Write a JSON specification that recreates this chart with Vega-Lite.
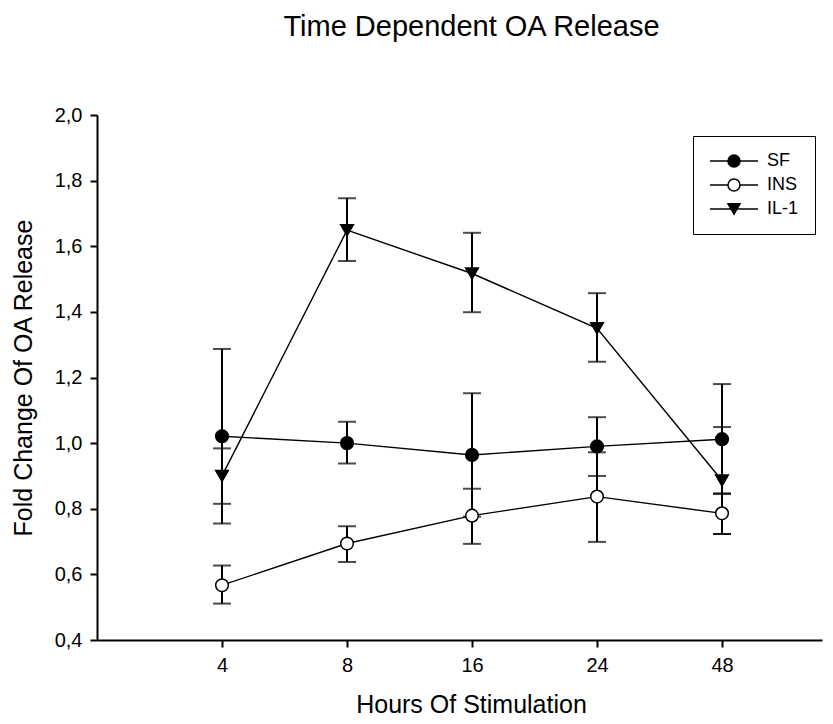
{
  "$schema": "https://vega.github.io/schema/vega-lite/v6.json",
  "width": 725,
  "height": 525,
  "autosize": {"type": "none"},
  "padding": {"left": 97, "top": 115, "right": 11, "bottom": 84},
  "background": "white",
  "config": {
    "view": {"stroke": null},
    "font": "Liberation Sans",
    "axis": {
      "grid": false,
      "domainColor": "black",
      "domainWidth": 2,
      "tickColor": "black",
      "tickWidth": 2,
      "tickSize": 7,
      "labelColor": "black",
      "labelFont": "Liberation Sans",
      "labelFontSize": 20,
      "titleColor": "black",
      "titleFont": "Liberation Sans",
      "titleFontSize": 25,
      "titleFontWeight": "normal"
    }
  },
  "title": {
    "text": "Time Dependent OA Release",
    "font": "Liberation Sans",
    "fontSize": 29,
    "fontWeight": "normal",
    "color": "black",
    "offset": 63,
    "dx": 12
  },
  "data": {
    "values": [
      {"series": "SF", "hours": 4, "value": 1.021, "lo": 0.755, "hi": 1.287},
      {"series": "SF", "hours": 8, "value": 1.0, "lo": 0.938, "hi": 1.065},
      {"series": "SF", "hours": 16, "value": 0.964, "lo": 0.776, "hi": 1.152},
      {"series": "SF", "hours": 24, "value": 0.99, "lo": 0.9, "hi": 1.079},
      {"series": "SF", "hours": 48, "value": 1.012, "lo": 0.845, "hi": 1.18},
      {"series": "INS", "hours": 4, "value": 0.567, "lo": 0.511, "hi": 0.627},
      {"series": "INS", "hours": 8, "value": 0.694, "lo": 0.638, "hi": 0.747},
      {"series": "INS", "hours": 16, "value": 0.779, "lo": 0.693, "hi": 0.861},
      {"series": "INS", "hours": 24, "value": 0.837, "lo": 0.699, "hi": 0.972},
      {"series": "INS", "hours": 48, "value": 0.786, "lo": 0.723, "hi": 0.847},
      {"series": "IL-1", "hours": 4, "value": 0.9, "lo": 0.815, "hi": 0.984},
      {"series": "IL-1", "hours": 8, "value": 1.649, "lo": 1.555, "hi": 1.746},
      {"series": "IL-1", "hours": 16, "value": 1.517, "lo": 1.399, "hi": 1.641},
      {"series": "IL-1", "hours": 24, "value": 1.35, "lo": 1.248, "hi": 1.457},
      {"series": "IL-1", "hours": 48, "value": 0.886, "lo": 0.723, "hi": 1.049}
    ]
  },
  "encoding": {
    "x": {
      "field": "hours",
      "type": "ordinal",
      "scale": {"type": "point", "padding": 0.9, "align": 0.5556},
      "axis": {"title": "Hours Of Stimulation", "labelAngle": 0, "labelPadding": 8, "titlePadding": 17, "titleX": 374}
    }
  },
  "layer": [
    {
      "mark": {"type": "rule", "color": "black", "strokeWidth": 2},
      "encoding": {
        "y": {"field": "lo", "type": "quantitative"},
        "y2": {"field": "hi"}
      }
    },
    {
      "mark": {"type": "tick", "color": "black", "size": 18, "thickness": 2},
      "encoding": {"y": {"field": "lo", "type": "quantitative"}}
    },
    {
      "mark": {"type": "tick", "color": "black", "size": 18, "thickness": 2},
      "encoding": {"y": {"field": "hi", "type": "quantitative"}}
    },
    {
      "mark": {"type": "line", "strokeWidth": 1.4},
      "encoding": {
        "y": {"field": "value", "type": "quantitative"},
        "color": {
          "field": "series",
          "type": "nominal",
          "sort": ["SF", "INS", "IL-1"],
          "scale": {"range": ["black", "black", "black"]},
          "legend": {
            "title": null,
            "orient": "none",
            "legendX": 596,
            "legendY": 21,
            "padding": 16,
            "rowPadding": 6,
            "labelFontSize": 18,
            "labelFont": "Liberation Sans",
            "labelOpacity": 0,
            "symbolType": "M-4,0H4",
            "symbolSize": 144,
            "symbolStrokeWidth": 1.5,
            "symbolOffset": 16,
            "labelOffset": 24
          }
        }
      }
    },
    {
      "mark": {"type": "point", "size": 160, "strokeWidth": 1.5, "opacity": 1, "filled": false},
      "encoding": {
        "y": {
          "field": "value",
          "type": "quantitative",
          "scale": {"domain": [0.4, 2.0], "nice": false, "zero": false},
          "axis": {
            "title": "Fold Change Of OA Release",
            "values": [0.4, 0.6, 0.8, 1.0, 1.2, 1.4, 1.6, 1.8, 2.0],
            "labelExpr": "replace(format(datum.value, '.1f'), '.', ',')",
            "labelPadding": 8,
            "titlePadding": 18
          }
        },
        "shape": {
          "field": "series",
          "type": "nominal",
          "scale": {"domain": ["SF", "INS", "IL-1"], "range": ["circle", "circle", "triangle-down"]},
          "legend": {
            "title": null,
            "orient": "none",
            "legendX": 596,
            "legendY": 21,
            "strokeColor": "black",
            "padding": 16,
            "rowPadding": 6,
            "labelFontSize": 18,
            "labelFont": "Liberation Sans",
            "labelColor": "black",
            "symbolSize": 144,
            "symbolStrokeWidth": 1.5,
            "symbolOffset": 16,
            "labelOffset": 24
          }
        },
        "fill": {
          "field": "series",
          "type": "nominal",
          "scale": {"domain": ["SF", "INS", "IL-1"], "range": ["black", "white", "black"]},
          "legend": {
            "title": null,
            "orient": "none",
            "legendX": 596,
            "legendY": 21,
            "strokeColor": "black",
            "padding": 16,
            "rowPadding": 6,
            "labelFontSize": 18,
            "labelFont": "Liberation Sans",
            "labelColor": "black",
            "symbolSize": 144,
            "symbolStrokeWidth": 1.5,
            "symbolOffset": 16,
            "labelOffset": 24
          }
        },
        "stroke": {
          "field": "series",
          "type": "nominal",
          "scale": {"domain": ["SF", "INS", "IL-1"], "range": ["black", "black", "black"]},
          "legend": {
            "title": null,
            "orient": "none",
            "legendX": 596,
            "legendY": 21,
            "strokeColor": "black",
            "padding": 16,
            "rowPadding": 6,
            "labelFontSize": 18,
            "labelFont": "Liberation Sans",
            "labelColor": "black",
            "symbolSize": 144,
            "symbolStrokeWidth": 1.5,
            "symbolOffset": 16,
            "labelOffset": 24
          }
        }
      }
    }
  ]
}
